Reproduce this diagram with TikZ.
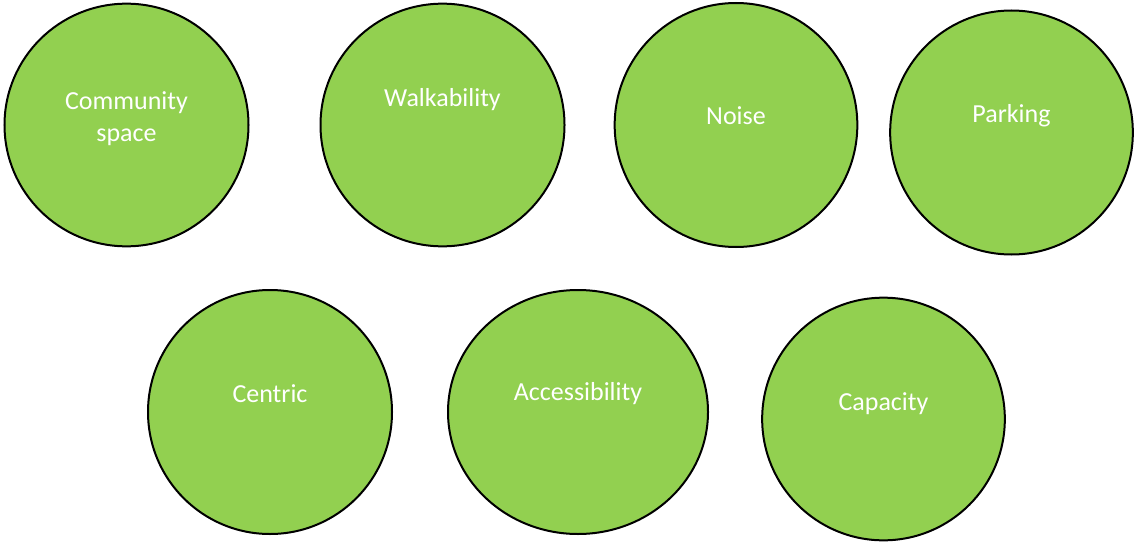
\documentclass[tikz,border=0pt]{standalone}
\usepackage{fontspec}
\setmainfont{Carlito}
\usetikzlibrary{shapes.geometric}
\definecolor{leafgreen}{HTML}{92D050}
\tikzset{
  bubble/.style={ellipse,fill=leafgreen,draw=black,line width=1.5pt,inner sep=0pt},
  word/.style={text=white,font=\fontsize{19.5}{24}\selectfont,align=center,inner sep=0pt}
}

\begin{document}
\begin{tikzpicture}[x=0.75pt,y=-0.75pt]
      % page frame
      \useasboundingbox (0,0) rectangle (1135,542);
      % top row
      \node[bubble,minimum width=183pt,minimum height=182pt] (community) at (126.5,125) {};
      \node[bubble,minimum width=183pt,minimum height=182pt] (walk) at (442.5,125) {};
      \node[bubble,minimum width=182pt,minimum height=183pt] (noise) at (736,125) {};
      \node[bubble,minimum width=182pt,minimum height=183pt] (parking) at (1011.5,132.5) {};
      % bottom row
      \node[bubble,minimum width=183pt,minimum height=183pt] (centric) at (270,412) {};
      \node[bubble,minimum width=195pt,minimum height=183pt] (access) at (578,412) {};
      \node[bubble,minimum width=182pt,minimum height=182pt] (capacity) at (883.5,419) {};
      % labels
      \node[word] (communitytxt) at (126.5,119) {Community\\space};
      \node[word] (walktxt) at (442.5,99.5) {Walkability};
      \node[word] (noisetxt) at (736,115.5) {Noise};
      \node[word] (parkingtxt) at (1011.5,115.5) {Parking};
      \node[word] (centrictxt) at (270,393.5) {Centric};
      \node[word] (accesstxt) at (578,393.5) {Accessibility};
      \node[word] (capacitytxt) at (883.5,403.5) {Capacity};
    \end{tikzpicture}
\end{document}
